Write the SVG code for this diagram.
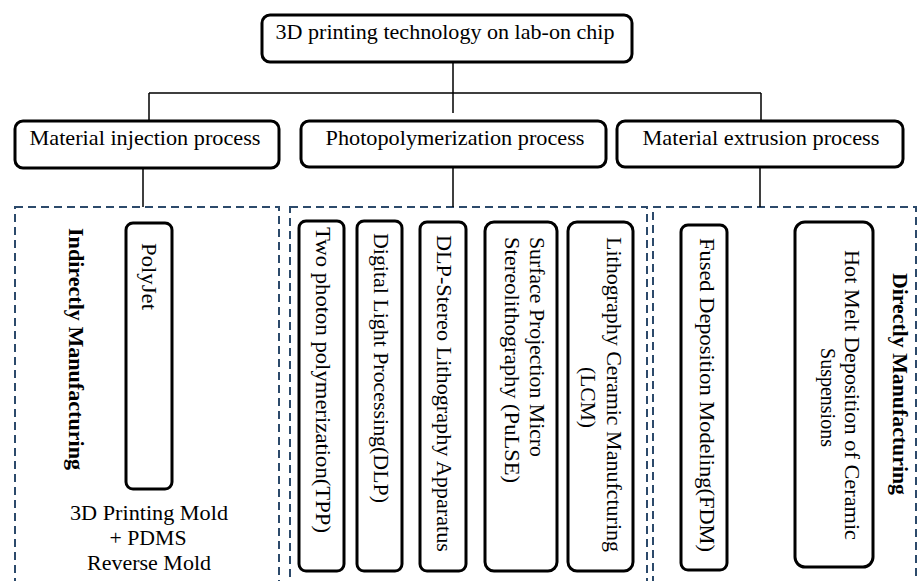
<svg xmlns="http://www.w3.org/2000/svg" width="917" height="581" viewBox="0 0 917 581">
<style>
.box{fill:#fff;stroke:#000;stroke-width:3}
.grp{fill:none;stroke:#2c4a6b;stroke-width:2;stroke-dasharray:8 5}
.con{fill:none;stroke:#000;stroke-width:1.5}
text{font-family:"Liberation Serif","Times New Roman",serif;font-size:21px;fill:#000}
.b{font-weight:bold}
.m{text-anchor:middle}
</style>
<rect width="917" height="581" fill="#fff"/>
<g id="groups">
<rect class="grp" x="15" y="207" width="264" height="400"/>
<rect class="grp" x="290" y="207" width="357" height="400"/>
<rect class="grp" x="653" y="207" width="263" height="400"/>
</g>
<g id="connectors">
<path class="con" d="M453 62V113M149 93H761M149 93V121M761 93V121M143 168V207M453 167V207M760 167V207"/>
</g>
<g id="root"><rect class="box" x="262" y="15" width="370" height="47" rx="8"/><text class="m" x="445" y="39" textLength="339" lengthAdjust="spacingAndGlyphs">3D printing technology on lab-on chip</text></g>
<g id="injection"><rect class="box" x="15" y="121" width="264" height="47" rx="8"/><text class="m" x="145" y="145" textLength="231" lengthAdjust="spacingAndGlyphs">Material injection process</text></g>
<g id="photo"><rect class="box" x="301" y="121" width="305" height="46" rx="8"/><text class="m" x="455" y="145" textLength="259" lengthAdjust="spacingAndGlyphs">Photopolymerization process</text></g>
<g id="extrusion"><rect class="box" x="617" y="121" width="286" height="46" rx="8"/><text class="m" x="761" y="145" textLength="237" lengthAdjust="spacingAndGlyphs">Material extrusion process</text></g>
<g id="indirect-label"><text class="b" transform="translate(69,228) rotate(90)" textLength="242" lengthAdjust="spacingAndGlyphs">Indirectly Manufacturing</text></g>
<g id="polyjet"><rect class="box" x="126" y="223" width="46" height="266" rx="7"/><text transform="translate(142,243) rotate(90)" textLength="67" lengthAdjust="spacingAndGlyphs">PolyJet</text></g>
<g id="mold-note"><text class="m" x="149" y="520" textLength="158" lengthAdjust="spacingAndGlyphs">3D Printing Mold</text><text class="m" x="148" y="545" textLength="77" lengthAdjust="spacingAndGlyphs">+ PDMS</text><text class="m" x="149" y="570" textLength="124" lengthAdjust="spacingAndGlyphs">Reverse Mold</text></g>
<g id="tpp"><rect class="box" x="299" y="221" width="45" height="350" rx="7"/><text transform="translate(316,227) rotate(90)" textLength="306" lengthAdjust="spacingAndGlyphs">Two photon polymerization(TPP)</text></g>
<g id="dlp"><rect class="box" x="357" y="221" width="45" height="350" rx="7"/><text transform="translate(374,233) rotate(90)" textLength="270" lengthAdjust="spacingAndGlyphs">Digital Light Processing(DLP)</text></g>
<g id="dlp-sla"><rect class="box" x="420" y="222" width="46" height="349" rx="7"/><text transform="translate(437,235) rotate(90)" textLength="317" lengthAdjust="spacingAndGlyphs">DLP-Stereo Lithography Apparatus</text></g>
<g id="pulse"><rect class="box" x="485" y="222" width="72" height="349" rx="9"/><text transform="translate(530,237) rotate(90)" textLength="220" lengthAdjust="spacingAndGlyphs">Surface Projection Micro</text><text transform="translate(505,237) rotate(90)" textLength="246" lengthAdjust="spacingAndGlyphs">Stereolithography (PuLSE)</text></g>
<g id="lcm"><rect class="box" x="568" y="222" width="65" height="349" rx="9"/><text class="m" transform="translate(607,394.5) rotate(90)" textLength="315" lengthAdjust="spacingAndGlyphs">Lithography Ceramic Manufcturing</text><text class="m" transform="translate(581,397.5) rotate(90)" textLength="61" lengthAdjust="spacingAndGlyphs">(LCM)</text></g>
<g id="fdm"><rect class="box" x="681" y="225" width="46" height="345" rx="7"/><text transform="translate(700,238) rotate(90)" textLength="314" lengthAdjust="spacingAndGlyphs">Fused Deposition Modeling(FDM)</text></g>
<g id="hotmelt"><rect class="box" x="795" y="222" width="78" height="345" rx="10"/><text class="m" transform="translate(845,395) rotate(90)" textLength="290" lengthAdjust="spacingAndGlyphs">Hot Melt Deposition of Ceramic</text><text class="m" transform="translate(821,397.5) rotate(90)" textLength="99" lengthAdjust="spacingAndGlyphs">Suspensions</text></g>
<g id="direct-label"><text class="b m" transform="translate(893,384) rotate(90)" textLength="222" lengthAdjust="spacingAndGlyphs">Directly Manufacturing</text></g>
</svg>
